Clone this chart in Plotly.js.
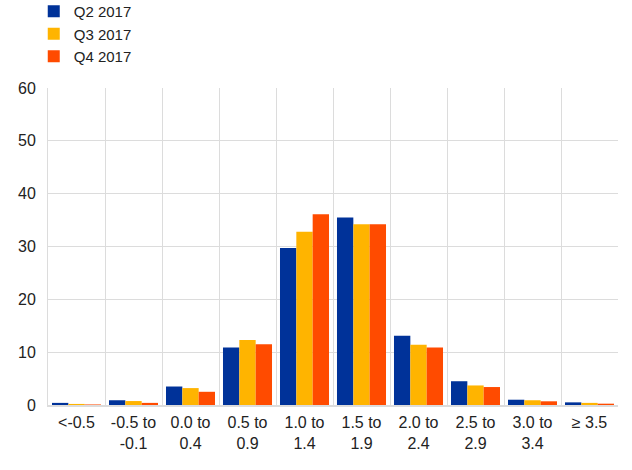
<!DOCTYPE html>
<html>
<head>
<meta charset="utf-8">
<script src="https://cdn.plot.ly/plotly-3.0.1.min.js"></script>
<style>html,body{margin:0;padding:0;background:#fff;}#chart{width:632px;height:470px;}</style>
</head>
<body>
<div id="chart"></div>
<script>
const categories = ["<-0.5", "-0.5 to<br>-0.1", "0.0 to<br>0.4", "0.5 to<br>0.9", "1.0 to<br>1.4", "1.5 to<br>1.9", "2.0 to<br>2.4", "2.5 to<br>2.9", "3.0 to<br>3.4", "≥ 3.5"];
const seriesNames = ["Q2 2017", "Q3 2017", "Q4 2017"];
const q2_2017 = [0.4, 0.9, 3.5, 10.9, 29.7, 35.5, 13.1, 4.5, 1.0, 0.5];
const q3_2017 = [0.2, 0.75, 3.2, 12.3, 32.8, 34.2, 11.4, 3.7, 0.9, 0.4];
const q4_2017 = [0.1, 0.4, 2.5, 11.5, 36.1, 34.2, 10.9, 3.4, 0.7, 0.25];
const yTicks = [0, 10, 20, 30, 40, 50, 60];

const colors = ["#003299", "#FFB400", "#FF4B00"];
const values = [q2_2017, q3_2017, q4_2017];

const data = values.map((v, i) => ({
  type: "bar",
  name: seriesNames[i],
  x: categories,
  y: v,
  marker: {color: colors[i]},
  hoverinfo: "x+y+name"
}));

const layout = {
  width: 632,
  height: 470,
  margin: {l: 48, r: 14, t: 88, b: 65, autoexpand: false},
  paper_bgcolor: "#ffffff",
  plot_bgcolor: "#ffffff",
  font: {family: "Arial, 'Liberation Sans', sans-serif", size: 16, color: "#222222"},
  barmode: "group",
  bargap: 0.14,
  bargroupgap: 0,
  showlegend: true,
  legend: {
    x: -0.025, y: 1.293, xanchor: "left", yanchor: "top",
    orientation: "v",
    font: {size: 15, color: "#222222"},
    tracegroupgap: 0,
    itemclick: false
  },
  xaxis: {
    type: "category",
    tickson: "boundaries",
    showgrid: true,
    gridcolor: "#dcdcdc",
    gridwidth: 1,
    showline: true,
    linecolor: "#dcdcdc",
    linewidth: 2,
    ticks: "",
    ticklabelstandoff: 2,
    tickfont: {size: 16, color: "#222222"},
    fixedrange: true
  },
  yaxis: {
    range: [0, 60],
    tickvals: yTicks,
    ticktext: yTicks.map(String),
    showgrid: true,
    gridcolor: "#dcdcdc",
    gridwidth: 1,
    zeroline: false,
    showline: true,
    linecolor: "#dcdcdc",
    linewidth: 1,
    ticks: "",
    ticklabelstandoff: 8,
    tickfont: {size: 16, color: "#222222"},
    fixedrange: true
  }
};

Plotly.newPlot("chart", data, layout, {displayModeBar: false, staticPlot: true});
</script>
</body>
</html>
